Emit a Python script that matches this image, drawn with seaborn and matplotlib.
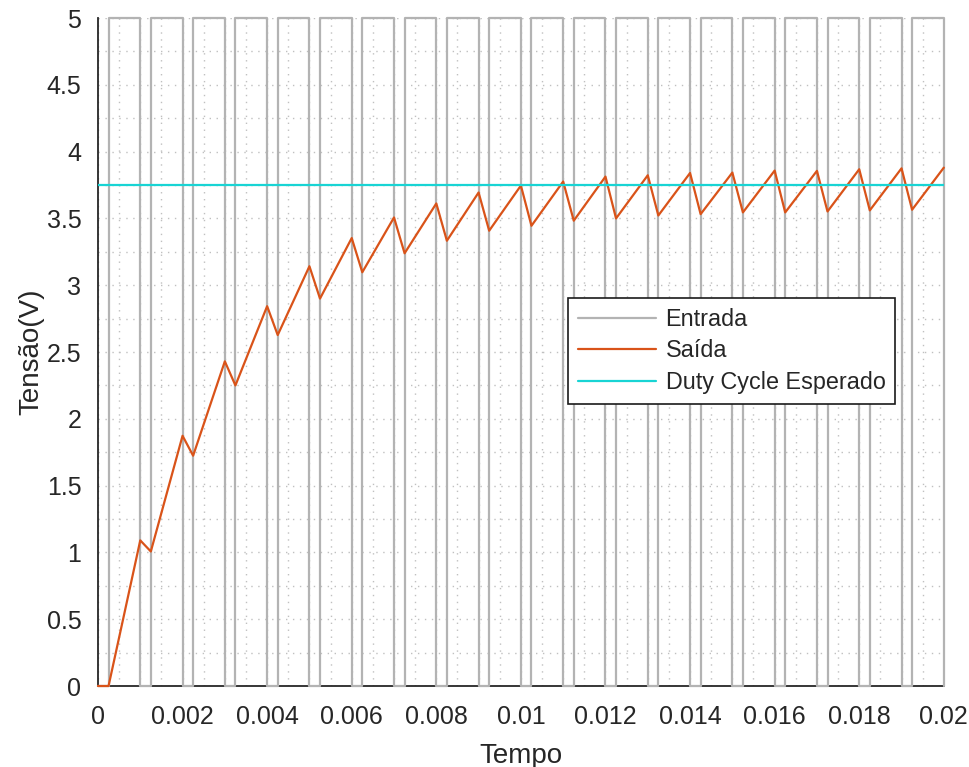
import matplotlib
matplotlib.use("Agg")
import matplotlib.pyplot as plt
import seaborn as sns
import pandas as pd
from matplotlib.ticker import MultipleLocator, FuncFormatter
from matplotlib.lines import Line2D

# PWM input: switching instants (s) and the level held from each instant on
t_edges = [0, 0.00025, 0.001, 0.00125, 0.002, 0.00225, 0.003, 0.00325, 0.004, 0.00425,
           0.005, 0.00525, 0.006, 0.00625, 0.007, 0.00725, 0.008, 0.00825, 0.009, 0.00925,
           0.010, 0.01025, 0.011, 0.01125, 0.012, 0.01225, 0.013, 0.01325, 0.014, 0.01425,
           0.015, 0.01525, 0.016, 0.01625, 0.017, 0.01725, 0.018, 0.01825, 0.019, 0.01925,
           0.020]
v_in = [0, 5, 0, 5, 0, 5, 0, 5, 0, 5,
        0, 5, 0, 5, 0, 5, 0, 5, 0, 5,
        0, 5, 0, 5, 0, 5, 0, 5, 0, 5,
        0, 5, 0, 5, 0, 5, 0, 5, 0, 5,
        0]

# Filter output sampled at the same instants (V)
v_out = [0, 0, 1.09, 1.007, 1.873, 1.724, 2.43, 2.25, 2.843, 2.627,
         3.142, 2.90, 3.353, 3.097, 3.507, 3.239, 3.612, 3.333, 3.694, 3.408,
         3.746, 3.445, 3.776, 3.483, 3.813, 3.50, 3.823, 3.522, 3.84, 3.532,
         3.843, 3.545, 3.858, 3.545, 3.856, 3.552, 3.868, 3.56, 3.875, 3.565,
         3.88]

# Expected average level for the duty cycle
duty_t = [0, 0.02]
duty_v = [3.75, 3.75]

labels = ["Entrada", "Saída", "Duty Cycle Esperado"]
colors = ["#b3b3b3", "#d95319", "#18d4d4"]

sns.set_style("white")
plt.rcParams["font.family"] = ["Liberation Sans", "DejaVu Sans"]

df_in = pd.DataFrame({"t": t_edges, "v": v_in})
df_out = pd.DataFrame({"t": t_edges, "v": v_out})
df_duty = pd.DataFrame({"t": duty_t, "v": duty_v})

fig = plt.figure(figsize=(9.7, 7.67), dpi=100)
ax = fig.add_axes([0.101, 0.1056, 0.872, 0.8709])

sns.lineplot(data=df_in, x="t", y="v", ax=ax, color=colors[0], lw=1.6,
             drawstyle="steps-post", sort=False, estimator=None, clip_on=False, zorder=3)
sns.lineplot(data=df_out, x="t", y="v", ax=ax, color=colors[1], lw=1.6,
             sort=False, estimator=None, clip_on=False, zorder=4)
sns.lineplot(data=df_duty, x="t", y="v", ax=ax, color=colors[2], lw=1.6,
             sort=False, estimator=None, zorder=5)

ax.set_xlim(0, 0.02)
ax.set_ylim(0, 5)
ax.xaxis.set_major_locator(MultipleLocator(0.002))
ax.xaxis.set_minor_locator(MultipleLocator(0.0005))
ax.yaxis.set_major_locator(MultipleLocator(0.5))
ax.yaxis.set_minor_locator(MultipleLocator(0.25))
fmt = FuncFormatter(lambda v, p: f"{round(v, 6):g}")
ax.xaxis.set_major_formatter(fmt)
ax.yaxis.set_major_formatter(fmt)

dot = (0, (1, 4))
ax.grid(which="major", color="#c0c0c0", lw=1.0, linestyle=dot)
ax.grid(which="minor", color="#c0c0c0", lw=1.0, linestyle=dot)
ax.set_axisbelow(True)

sns.despine(ax=ax)
for s in ("left", "bottom"):
    ax.spines[s].set_color("#262626")
    ax.spines[s].set_linewidth(1.3)
    ax.spines[s].set_zorder(2.5)

ax.tick_params(which="major", direction="in", length=6, width=1.3, color="#262626",
               labelsize=18, labelcolor="#262626")
ax.tick_params(which="minor", length=0)
ax.tick_params(axis="x", pad=14)
ax.tick_params(axis="y", pad=12)

ax.set_xlabel("Tempo", fontsize=20, color="#262626")
ax.set_ylabel("Tensão(V)", fontsize=20, color="#262626")
ax.xaxis.set_label_coords(0.5, -0.085)
ax.yaxis.set_label_coords(-0.063, 0.5)

handles = [Line2D([], [], color=c, lw=1.6) for c in colors]
leg = ax.legend(handles, labels, loc="upper left", bbox_to_anchor=(0.556, 0.581),
                fontsize=16.8, frameon=True, fancybox=False, framealpha=1,
                edgecolor="#1a1a1a", handlelength=3.35, handletextpad=0.4,
                labelspacing=0.37, borderpad=0.42, borderaxespad=0)
leg.get_frame().set_linewidth(1.2)
leg.set_zorder(10)

fig.savefig("out.png", dpi=100)
